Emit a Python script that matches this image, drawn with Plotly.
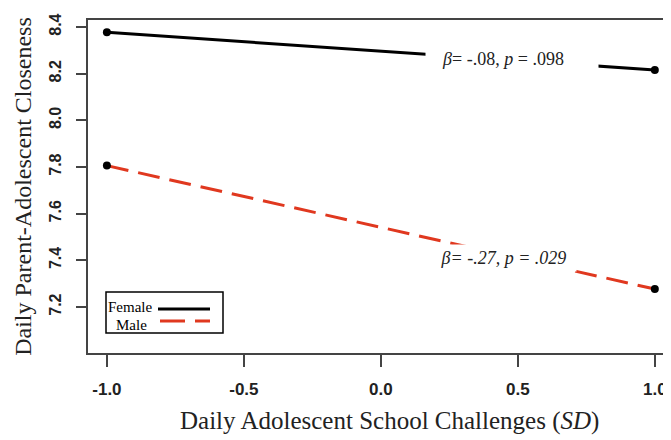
import plotly.graph_objects as go

x_vals = [-1.0, 1.0]
female = [8.377, 8.216]
male = [7.806, 7.277]
x_ticks = [-1.0, -0.5, 0.0, 0.5, 1.0]
x_tick_labels = ["-1.0", "-0.5", "0.0", "0.5", "1.0"]
y_ticks = [7.2, 7.4, 7.6, 7.8, 8.0, 8.2, 8.4]
y_tick_labels = ["7.2", "7.4", "7.6", "7.8", "8.0", "8.2", "8.4"]

# page body has an 8px margin, so the figure is drawn 8px in from the corner
OFF = 8
W, H = 671 - OFF, 440 - OFF
L, T, R, B = 80, 12, 0, 87
PW, PH = W - L - R, H - T - B

def px(x):  # screen pixel -> paper
    return (x - OFF - L) / PW

def py(y):
    return 1 - (y - OFF - T) / PH

SERIF = "Liberation Serif, Times New Roman, serif"
SANS = "Liberation Sans, Arial, sans-serif"
RED = "#e0381f"

fig = go.Figure()
fig.add_trace(go.Scatter(x=x_vals, y=female, mode="lines+markers",
                         line=dict(color="black", width=3),
                         marker=dict(color="black", size=8), showlegend=False))
fig.add_trace(go.Scatter(x=x_vals, y=male, mode="lines+markers",
                         line=dict(color=RED, width=3, dash="22px,10px"),
                         marker=dict(color="black", size=8), showlegend=False))

fig.add_annotation(x=0.478, y=8.262,
                   text="<i>β</i>= -.08, <i>p</i> = .098&nbsp;&nbsp;&nbsp;&nbsp;",
                   showarrow=False, bgcolor="white", width=170, height=24,
                   font=dict(family=SERIF, size=18, color="#222"))
fig.add_annotation(x=0.447, y=7.41, text="<i>β= -.27, p = .029</i>",
                   showarrow=False, bgcolor="white", width=143, height=24,
                   font=dict(family=SERIF, size=18, color="#222"))

# legend box
fig.add_shape(type="rect", xref="paper", yref="paper",
              x0=px(106), x1=px(223), y0=py(333), y1=py(292),
              line=dict(color="black", width=1.5), fillcolor="white", layer="above")
fig.add_shape(type="line", xref="paper", yref="paper",
              x0=px(158), x1=px(210), y0=py(309), y1=py(309),
              line=dict(color="black", width=3), layer="above")
fig.add_shape(type="line", xref="paper", yref="paper",
              x0=px(160), x1=px(210), y0=py(321), y1=py(321),
              line=dict(color=RED, width=3, dash="25px,10px"), layer="above")
fig.add_annotation(xref="paper", yref="paper", x=px(107), y=py(307), text="Female",
                   xanchor="left", yanchor="middle", showarrow=False,
                   borderpad=0, font=dict(family=SERIF, size=15, color="black"))
fig.add_annotation(xref="paper", yref="paper", x=px(115), y=py(324.5), text="Male",
                   xanchor="left", yanchor="middle", showarrow=False,
                   borderpad=0, font=dict(family=SERIF, size=15, color="black"))

# x-axis title (placed as text so it can sit where the reference has it)
fig.add_annotation(xref="paper", yref="paper", x=px(389), y=py(421),
                   text="Daily Adolescent School Challenges (<i>SD</i>)",
                   xanchor="center", yanchor="middle", showarrow=False,
                   font=dict(family=SERIF, size=25, color="#222"))

fig.update_layout(
    width=W, height=H,
    margin=dict(l=L, r=R, t=T, b=B, autoexpand=False),
    plot_bgcolor="white", paper_bgcolor="white",
    xaxis=dict(range=[-1.069, 1.059], tickvals=x_ticks, ticktext=x_tick_labels,
               automargin=False,
               showgrid=False, zeroline=False, showline=True, linecolor="#444",
               linewidth=1.5, mirror=True, ticks="outside", ticklen=12,
               tickcolor="#444", tickwidth=1.5, ticklabelstandoff=8,
               tickfont=dict(family=SANS, size=17, color="#222", weight="bold")),
    yaxis=dict(range=[7.003, 8.43], tickvals=y_ticks, ticktext=y_tick_labels,
               automargin=False,
               showgrid=False, zeroline=False, showline=True, linecolor="#444",
               linewidth=1.5, mirror=False, ticks="outside", ticklen=10,
               tickcolor="#444", tickwidth=1.5, tickangle=-90, ticklabelstandoff=9,
               tickfont=dict(family=SANS, size=16, color="#222", weight="bold"),
               title=dict(text="Daily Parent-Adolescent Closeness",
                          font=dict(family=SERIF, size=24, color="#222"), standoff=8)),
)

fig.write_html("out.html")
